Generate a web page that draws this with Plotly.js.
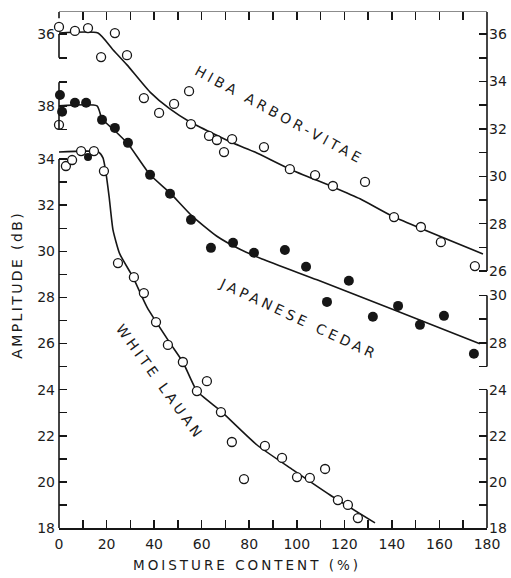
<!DOCTYPE html>
<html>
<head>
<meta charset="utf-8">
<script src="https://cdn.plot.ly/plotly-3.0.1.min.js"></script>
<style>
  html, body { margin: 0; padding: 0; background: #fff; }
  #chart { width: 511px; height: 578px; }
  g.annotation[data-index="0"] text,
  g.annotation[data-index="1"] text,
  g.annotation[data-index="2"] text { letter-spacing: 3.7px; }
  g.annotation[data-index="3"] text { letter-spacing: 3px; }
  g.annotation[data-index="4"] text { letter-spacing: 2.4px; }
</style>
</head>
<body>
<div id="chart"></div>
<script>
// Moisture content (%) vs. amplitude (dB) for three wood species.
// Each species is read against its own amplitude scale.

// Hiba arbor-vitae (open circles, scale: upper right)
const hibaX = [0.0, 6.7, 12.2, 17.7, 23.5, 28.6, 35.7, 42.1, 48.4, 54.7, 55.5, 63.1,
               66.4, 69.4, 72.8, 86.2, 97.1, 107.7, 115.2, 128.7, 140.9, 152.2, 160.6, 174.9];
const hibaY = [36.30, 36.13, 36.25, 35.03, 36.04, 35.11, 33.30, 32.67, 33.05, 33.59, 32.20, 31.70,
               31.53, 31.02, 31.57, 31.23, 30.30, 30.05, 29.59, 29.76, 28.28, 27.86, 27.22, 26.21];
const hibaFitX = [0, 16.4, 22.5, 28.6, 38.3, 46.5, 55.1, 73.2, 82.4, 97.1, 115.2, 126.6, 140.5, 178.3];
const hibaFitY = [36.04, 36.04, 35.36, 34.70, 33.55, 32.85, 32.29, 31.40, 31.02, 30.30, 29.55, 29.05, 28.30, 26.72];

// Japanese cedar (filled circles, scale: 38 on left, 28-30 on right)
const cedarX = [0.4, 1.3, 6.7, 11.4, 18.1, 23.5, 29.0, 38.3, 46.7, 55.5, 63.9,
                73.2, 82.0, 95.0, 103.9, 112.7, 121.9, 132.0, 142.6, 151.8, 161.9, 174.5];
const cedarY = [38.46, 37.75, 38.13, 38.13, 37.41, 37.07, 36.44, 35.09, 34.29, 33.19, 32.01,
                32.22, 31.80, 31.92, 31.21, 29.73, 30.62, 29.10, 29.56, 28.76, 29.14, 27.54];
const cedarOpenX = [0.0];
const cedarOpenY = [37.20];
const cedarFitX = [0, 16.0, 18.1, 23.5, 29.0, 38.3, 46.7, 55.9, 66.4, 76.1, 85.4, 108.5, 142.1, 177.0];
const cedarFitY = [38.0, 38.0, 37.45, 36.95, 36.40, 35.09, 34.33, 33.36, 32.50, 31.95, 31.54, 30.66, 29.35, 27.96];

// White lauan (open circles, scale: left 18-34, right 18-24)
const lauanX = [2.9, 5.5, 9.3, 14.7, 18.9, 24.8, 31.5, 35.7, 40.8, 45.8, 52.1, 62.2, 58.0,
                68.1, 72.7, 77.8, 86.6, 93.8, 100.1, 105.5, 111.9, 117.3, 121.5, 125.7];
const lauanY = [33.70, 33.96, 34.35, 34.35, 33.48, 29.49, 28.88, 28.19, 26.93, 25.94, 25.20, 24.37, 23.94,
                23.03, 21.73, 20.12, 21.56, 21.04, 20.21, 20.17, 20.56, 19.21, 19.00, 18.43];
const lauanFilledX = [12.2];
const lauanFilledY = [34.09];
const lauanFitX = [0, 16.6, 18.5, 19.6, 21.1, 22.7, 25.5, 31.1, 37.0, 46.7, 52.1, 58.0, 68.1, 83.3, 98.4, 114.0, 132.9];
const lauanFitY = [34.31, 34.31, 34.05, 33.50, 32.35, 30.93, 29.90, 28.88, 27.58, 26.02, 25.20, 23.94, 23.07, 21.60, 20.52, 19.43, 18.22];

// Axis ticks
const moistureTicks = [0, 10, 20, 30, 40, 50, 60, 70, 80, 90, 100, 110, 120, 130, 140, 150, 160, 170, 180];
const lauanLeftTicks = [18, 19, 20, 21, 22, 23, 24, 25, 26, 27, 28, 29, 30, 31, 32, 33, 34];
const lauanRightTicks = [18, 19, 20, 21, 22, 23, 24];
const cedarLeftTicks = [37, 38, 39];
const cedarRightTicks = [27, 28, 29, 30];
const hibaLeftTicks = [35, 36];
const hibaRightTicks = [26, 27, 28, 29, 30, 31, 32, 33, 34, 35, 36];

// Label only the even values
const evenLabels = ticks => ticks.map(v => (v % 2 === 0 ? String(v) : ''));
const cedarLeftLabels = ['', '38', ''];
const hibaLeftLabels = ['', '36'];

// Axis ranges chosen so that each species scale sits where it belongs
const lauanRange = [18, 40.38];
const cedarRange = [20.19, 41.96];
const hibaRange = [15.16, 36.93];

const INK = '#161616';
const tickFont = { family: 'DejaVu Sans', size: 14, color: '#1c1c1c' };

function yAxis(range, vals, labels, side, overlay) {
  const ax = {
    range: range, side: side,
    tickmode: 'array', tickvals: vals, ticktext: labels,
    ticks: 'inside', ticklen: 8, tickwidth: 1.5, tickcolor: INK,
    showline: false, showgrid: false, zeroline: false,
    tickfont: tickFont, ticklabelstandoff: side === 'left' ? 3 : 1,
    fixedrange: true
  };
  if (overlay) { ax.overlaying = 'y'; ax.anchor = 'x'; }
  return ax;
}

const openMarker = { symbol: 'circle', size: 9, color: '#ffffff', line: { color: INK, width: 1.3 } };
const filledMarker = { symbol: 'circle', size: 10, color: INK, line: { width: 0 } };
const fitLine = { color: INK, width: 1.6, shape: 'spline', smoothing: 0.5 };

const traces = [
  // fitted curves
  { x: hibaFitX, y: hibaFitY, yaxis: 'y5', mode: 'lines', line: fitLine, hoverinfo: 'skip' },
  { x: cedarFitX, y: cedarFitY, yaxis: 'y3', mode: 'lines', line: fitLine, hoverinfo: 'skip' },
  { x: lauanFitX, y: lauanFitY, yaxis: 'y', mode: 'lines', line: fitLine, hoverinfo: 'skip' },
  // measurements
  { x: hibaX, y: hibaY, yaxis: 'y5', mode: 'markers', marker: openMarker, cliponaxis: false },
  { x: cedarX, y: cedarY, yaxis: 'y3', mode: 'markers', marker: filledMarker, cliponaxis: false },
  { x: cedarOpenX, y: cedarOpenY, yaxis: 'y3', mode: 'markers', marker: openMarker, cliponaxis: false },
  { x: lauanX, y: lauanY, yaxis: 'y', mode: 'markers', marker: openMarker, cliponaxis: false },
  { x: lauanFilledX, y: lauanFilledY, yaxis: 'y', mode: 'markers', marker: { symbol: 'circle', size: 8, color: INK }, cliponaxis: false },
  // carriers for the scale-only axes
  { x: [null], y: [null], yaxis: 'y2', mode: 'markers', hoverinfo: 'skip' },
  { x: [null], y: [null], yaxis: 'y4', mode: 'markers', hoverinfo: 'skip' },
  { x: [null], y: [null], yaxis: 'y6', mode: 'markers', hoverinfo: 'skip' },
  { x: [null], y: [null], xaxis: 'x2', yaxis: 'y', mode: 'markers', hoverinfo: 'skip' }
];

function axisLine(xPaper, yref, y0, y1) {
  return { type: 'line', xref: 'paper', yref: yref, x0: xPaper, x1: xPaper, y0: y0, y1: y1,
           line: { color: INK, width: 1.6 }, layer: 'above' };
}

const shapes = [
  axisLine(0, 'y', lauanLeftTicks[0], lauanLeftTicks[lauanLeftTicks.length - 1]),
  axisLine(1, 'y', lauanRightTicks[0], lauanRightTicks[lauanRightTicks.length - 1]),
  axisLine(0, 'y3', cedarLeftTicks[0], cedarLeftTicks[cedarLeftTicks.length - 1]),
  axisLine(1, 'y3', cedarRightTicks[0], cedarRightTicks[cedarRightTicks.length - 1]),
  axisLine(0, 'y5', hibaLeftTicks[0], hibaLeftTicks[hibaLeftTicks.length - 1]),
  axisLine(0, 'paper', 0.988, 1),
  axisLine(1, 'y5', hibaRightTicks[0], hibaRange[1])
];

const labelFont = { family: 'DejaVu Sans', size: 14, color: '#1a1a1a' };

const annotations = [
  { text: 'HIBA ARBOR-VITAE', xref: 'paper', yref: 'paper', x: 0.516, y: 0.800, textangle: 28.5,
    showarrow: false, font: labelFont, xanchor: 'center', yanchor: 'middle' },
  { text: 'JAPANESE CEDAR', xref: 'paper', yref: 'paper', x: 0.561, y: 0.405, textangle: 25,
    showarrow: false, font: labelFont, xanchor: 'center', yanchor: 'middle' },
  { text: 'WHITE LAUAN', xref: 'paper', yref: 'paper', x: 0.236, y: 0.283, textangle: 54,
    showarrow: false, font: labelFont, xanchor: 'center', yanchor: 'middle' },
  { text: 'MOISTURE CONTENT (%)', xref: 'paper', yref: 'paper', x: 0.439, y: -0.0717,
    showarrow: false, font: { family: 'DejaVu Sans', size: 13.5, color: '#1a1a1a' },
    xanchor: 'center', yanchor: 'middle' },
  { text: 'AMPLITUDE (dB)', xref: 'paper', yref: 'paper', x: -0.098, y: 0.471, textangle: -90,
    showarrow: false, font: { family: 'DejaVu Sans', size: 14, color: '#1a1a1a' },
    xanchor: 'center', yanchor: 'middle' }
];

const layout = {
  width: 511, height: 578,
  margin: { l: 59, r: 24, t: 12, b: 50 },
  paper_bgcolor: '#ffffff', plot_bgcolor: '#ffffff',
  showlegend: false,
  xaxis: {
    range: [0, 180], tickmode: 'array', tickvals: moistureTicks,
    ticktext: moistureTicks.map(v => (v % 20 === 0 ? String(v) : '')),
    ticks: 'inside', ticklen: 8, tickwidth: 1.5, tickcolor: INK,
    showline: true, linecolor: INK, linewidth: 1.6,
    showgrid: false, zeroline: false, tickfont: tickFont, ticklabelstandoff: 3,
    fixedrange: true
  },
  xaxis2: {
    range: [0, 180], overlaying: 'x', side: 'top', anchor: 'y',
    tickmode: 'array', tickvals: moistureTicks, showticklabels: false,
    ticks: 'inside', ticklen: 8, tickwidth: 1.5, tickcolor: INK,
    showline: true, linecolor: '#8c8c8c', linewidth: 1.2,
    showgrid: false, zeroline: false, fixedrange: true
  },
  yaxis: yAxis(lauanRange, lauanLeftTicks, evenLabels(lauanLeftTicks), 'left', false),
  yaxis2: yAxis(lauanRange, lauanRightTicks, evenLabels(lauanRightTicks), 'right', true),
  yaxis3: yAxis(cedarRange, cedarLeftTicks, cedarLeftLabels, 'left', true),
  yaxis4: yAxis(cedarRange, cedarRightTicks, evenLabels(cedarRightTicks), 'right', true),
  yaxis5: yAxis(hibaRange, hibaLeftTicks, hibaLeftLabels, 'left', true),
  yaxis6: yAxis(hibaRange, hibaRightTicks, evenLabels(hibaRightTicks), 'right', true),
  shapes: shapes,
  annotations: annotations
};

Plotly.newPlot('chart', traces, layout, { displayModeBar: false, staticPlot: true });
</script>
</body>
</html>
